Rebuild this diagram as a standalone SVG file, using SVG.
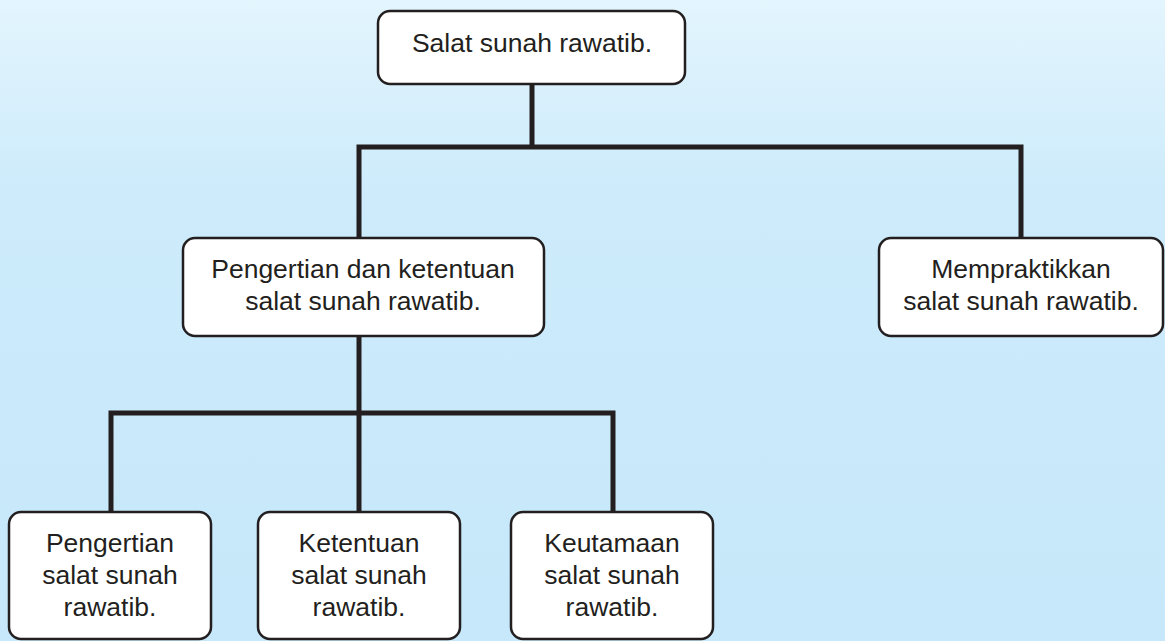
<svg xmlns="http://www.w3.org/2000/svg" width="1165" height="641" viewBox="0 0 1165 641">
<defs>
<linearGradient id="bg" x1="0" y1="0" x2="0" y2="1">
<stop offset="0" stop-color="#e3f5fd"/>
<stop offset="0.3" stop-color="#cdebfb"/>
<stop offset="1" stop-color="#c6e8fa"/>
</linearGradient>
<style>
.box{fill:#ffffff;stroke:#231f20;stroke-width:2.5}
.lbl{font-family:"Liberation Sans",Arial,sans-serif;font-size:26.5px;fill:#231f20;text-anchor:middle}
.con{fill:none;stroke:#231f20;stroke-width:5;stroke-linejoin:miter;stroke-linecap:butt}
</style>
</defs>
<rect x="0" y="0" width="1165" height="641" fill="url(#bg)"/>
<g id="connectors">
<path class="con" d="M532 84 V147"/>
<path class="con" d="M359 238 V147 H1021 V238"/>
<path class="con" d="M359 336 V413"/>
<path class="con" d="M111 512 V413 H613 V512"/>
<path class="con" d="M359 413 V512"/>
</g>
<g id="n-root">
<rect class="box" x="378" y="11" width="307" height="73" rx="12"/>
<text class="lbl" x="532" y="52">Salat sunah rawatib.</text>
</g>
<g id="n-pengertian-ketentuan">
<rect class="box" x="183" y="238" width="361" height="98" rx="12"/>
<text class="lbl" x="363" y="278">Pengertian dan ketentuan</text>
<text class="lbl" x="363" y="310">salat sunah rawatib.</text>
</g>
<g id="n-mempraktikkan">
<rect class="box" x="879" y="238" width="284" height="98" rx="12"/>
<text class="lbl" x="1021" y="278">Mempraktikkan</text>
<text class="lbl" x="1021" y="310">salat sunah rawatib.</text>
</g>
<g id="n-pengertian">
<rect class="box" x="9" y="512" width="202" height="127" rx="12"/>
<text class="lbl" x="110" y="552">Pengertian</text>
<text class="lbl" x="110" y="584">salat sunah</text>
<text class="lbl" x="110" y="616">rawatib.</text>
</g>
<g id="n-ketentuan">
<rect class="box" x="258" y="512" width="202" height="127" rx="12"/>
<text class="lbl" x="359" y="552">Ketentuan</text>
<text class="lbl" x="359" y="584">salat sunah</text>
<text class="lbl" x="359" y="616">rawatib.</text>
</g>
<g id="n-keutamaan">
<rect class="box" x="511" y="512" width="202" height="127" rx="12"/>
<text class="lbl" x="612" y="552">Keutamaan</text>
<text class="lbl" x="612" y="584">salat sunah</text>
<text class="lbl" x="612" y="616">rawatib.</text>
</g>
</svg>
